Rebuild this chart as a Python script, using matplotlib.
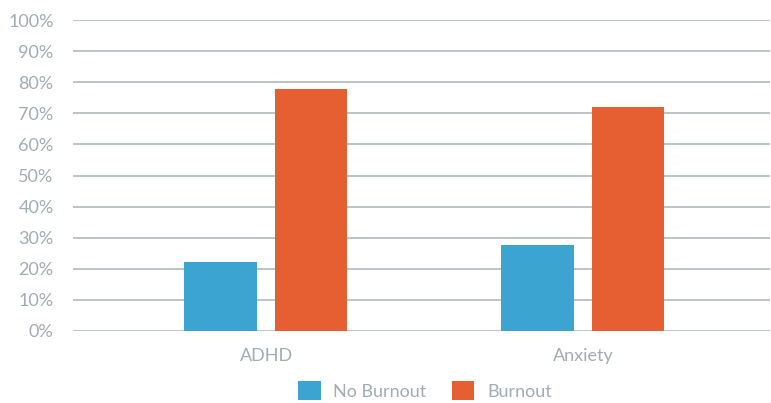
import matplotlib.pyplot as plt
import numpy as np

categories = ["ADHD", "Anxiety"]
no_burnout = [22.2, 27.8]
burnout = [77.8, 72.2]

blue = "#3ba4d1"
orange = "#e65f33"
text_color = "#a2acb3"
grid_color = "#bcc4c9"

plt.rcParams["font.family"] = ["Lato", "DejaVu Sans"]

fig = plt.figure(figsize=(7.71, 4.03), dpi=100)
ax = fig.add_axes([0.0947, 0.1787, 0.904, 0.7713])

x = np.arange(len(categories))
w = 0.23
ax.bar(x - 0.143, no_burnout, w, color=blue, label="No Burnout", zorder=3)
ax.bar(x + 0.142, burnout, w, color=orange, label="Burnout", zorder=3)

ax.set_ylim(0, 100)
ax.set_xlim(-0.609, 1.59)
ax.set_yticks(np.arange(0, 101, 10))
ax.set_yticklabels([f"{v}%" for v in range(0, 101, 10)])
ax.set_xticks(x)
ax.set_xticklabels(categories)

ax.yaxis.grid(True, color=grid_color, linewidth=1.4, zorder=0)
ax.tick_params(axis="y", length=0, pad=14, labelsize=13, labelcolor=text_color)
ax.tick_params(axis="x", length=0, pad=12, labelsize=13, labelcolor=text_color)
for s in ax.spines.values():
    s.set_visible(False)

leg = fig.legend(loc="center", bbox_to_anchor=(0.551, 0.03), ncol=2, frameon=False,
                 fontsize=13, handlelength=1.25, handleheight=1.25,
                 handletextpad=0.7, columnspacing=1.4)
for t in leg.get_texts():
    t.set_color(text_color)

fig.savefig("out.png", dpi=100)
